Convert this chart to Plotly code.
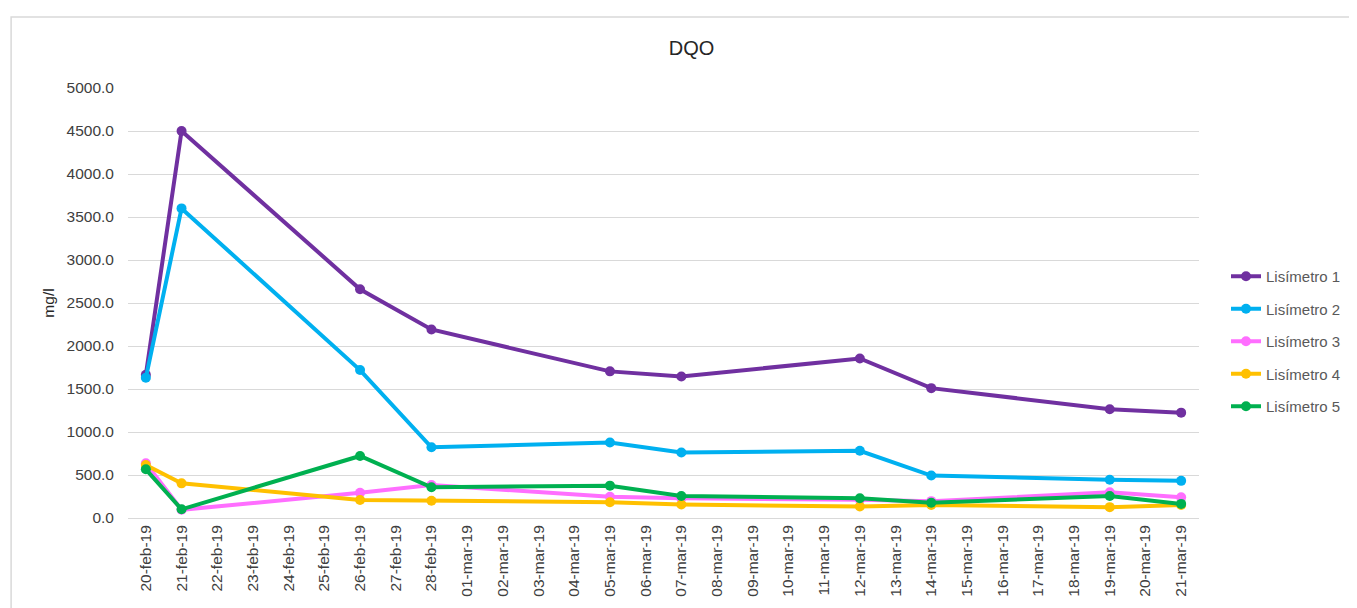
import plotly.graph_objects as go
import pandas as pd

# ---- data ----
sample_dates = ["2019-02-20", "2019-02-21", "2019-02-26", "2019-02-28", "2019-03-05",
                "2019-03-07", "2019-03-12", "2019-03-14", "2019-03-19", "2019-03-21"]
lis1 = [1665, 4500, 2660, 2192, 1705, 1645, 1855, 1510, 1265, 1225]
lis2 = [1630, 3600, 1720, 822, 878, 762, 782, 494, 445, 432]
lis3 = [636, 95, 294, 384, 246, 229, 212, 196, 298, 240]
lis4 = [616, 403, 209, 201, 183, 156, 133, 151, 126, 152]
lis5 = [566, 101, 721, 358, 376, 256, 229, 178, 256, 164]
series_names = ["Lisímetro 1", "Lisímetro 2", "Lisímetro 3", "Lisímetro 4", "Lisímetro 5"]
series_colors = ["#7030A0", "#00B0F0", "#FF6EFF", "#FFC000", "#00B050"]

months_es = {2: "feb", 3: "mar"}
tick_dates = pd.date_range("2019-02-20", "2019-03-21", freq="D")
tick_labels = [f"{d.day:02d}-{months_es[d.month]}-{d.strftime('%y')}" for d in tick_dates]

fig = go.Figure()
for name, vals, col in zip(series_names, [lis1, lis2, lis3, lis4, lis5], series_colors):
    fig.add_trace(go.Scatter(
        x=pd.to_datetime(sample_dates), y=vals, name=name, mode="lines+markers",
        line=dict(color=col, width=4), marker=dict(color=col, size=10),
        legendgroup=name,
    ))

OFF = 8  # page body margin
W, H = 1357 - OFF, 608 - OFF
L, T = 128 - OFF, 88 - OFF
R = W - (1200 - OFF)
B = H - (518 - OFF)
pw, ph = W - L - R, H - T - B

def px_x(sx):
    return (sx - OFF - L) / pw

def px_y(sy):
    return (518 - sy) / ph

fig.update_layout(
    width=W, height=H,
    margin=dict(l=L, r=R, t=T, b=B),
    paper_bgcolor="white", plot_bgcolor="white",
    font=dict(family="Liberation Sans, Arial, sans-serif", color="#595959", size=15),
    title=dict(text="DQO", x=px_x(692), xref="paper", xanchor="center",
               y=1 - (48 - OFF) / H, yanchor="middle",
               font=dict(size=20, color="#262626")),
    xaxis=dict(
        type="date",
        range=[pd.Timestamp("2019-02-19 12:00"), pd.Timestamp("2019-03-21 12:00")],
        tickvals=tick_dates, ticktext=tick_labels, tickangle=-90,
        showgrid=False, showline=True, linecolor="#d9d9d9", linewidth=1,
        ticks="", tickfont=dict(size=15.5, color="#404040"),
        zeroline=False,
    ),
    yaxis=dict(
        range=[0, 5000], dtick=500, tickformat=".1f",
        showgrid=True, gridcolor="#d9d9d9", gridwidth=1,
        zeroline=False, showline=False, ticks="",
        tickfont=dict(size=15.5, color="#404040"), ticklabelstandoff=13,
        title=dict(text="mg/l", font=dict(size=15.5, color="#262626"), standoff=8),
    ),
    legend=dict(
        x=px_x(1226), xanchor="left", y=px_y(260), yanchor="top",
        font=dict(size=15, color="#595959"), tracegroupgap=10,
        bgcolor="rgba(0,0,0,0)",
    ),
    showlegend=True,
)

# outer chart border
fig.add_shape(type="rect", xref="paper", yref="paper",
              x0=px_x(11), x1=px_x(1380),
              y0=px_y(640), y1=px_y(17),
              line=dict(color="#d9d9d9", width=1.5), fillcolor="rgba(0,0,0,0)", layer="below")

fig.write_html("out.html")
